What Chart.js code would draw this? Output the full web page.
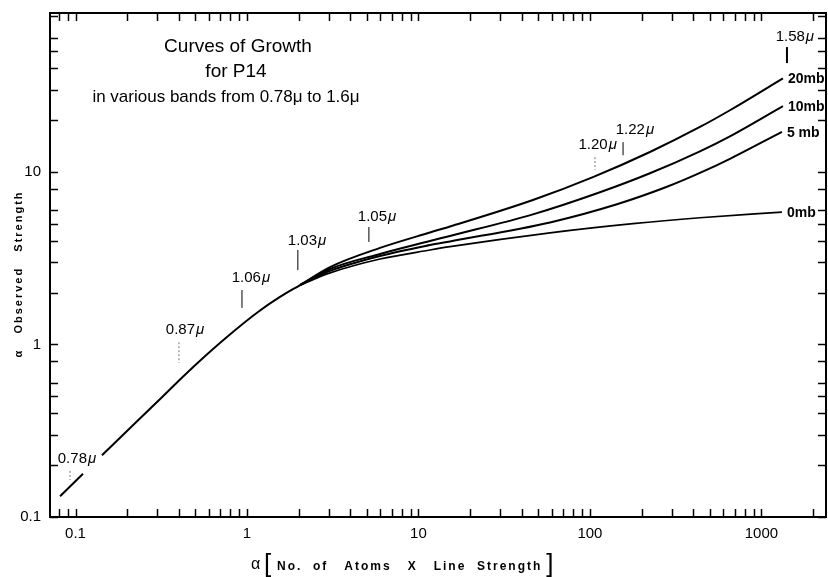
<!DOCTYPE html>
<html>
<head>
<meta charset="utf-8">
<script src="https://cdn.jsdelivr.net/npm/chart.js@4.4.1/dist/chart.umd.min.js"></script>
<style>
  body { margin: 0; background: #fff; }
  #wrap { width: 828px; height: 577px; }
</style>
</head>
<body>
<div id="wrap"><canvas id="cog" width="828" height="577"></canvas></div>
<script>
// axis ranges (log-log)
const xMin = 0.071, xMax = 2380;
const yMin = 0.1, yMax = 83.5;

// common trunk of all curves (null = break where the 0.78 label sits)
const trunkX = [0.0813, 0.1106, 0.125, 0.1427, 0.189, 0.272, 0.407, 0.511, 0.764, 1.159, 1.557, 2.04];
const trunkY = [0.132, 0.178, null, 0.228, 0.299, 0.424, 0.626, 0.776, 1.105, 1.543, 1.886, 2.21];

// branches by pressure
const mb20X = [2.04, 3.05, 5.97, 11.67, 15.27, 46.5, 104.1, 223.8, 437.9, 655.2, 1335];
const mb20Y = [2.21, 2.81, 3.63, 4.46, 4.83, 6.88, 9.34, 13.06, 18.24, 22.8, 34.9];
const mb10X = [2.04, 3.05, 5.97, 11.67, 15.27, 46.5, 114.4, 223.8, 437.9, 655.2, 1335];
const mb10Y = [2.21, 2.74, 3.35, 3.98, 4.26, 5.68, 7.63, 9.83, 13.18, 16.1, 24.1];
const mb5X = [2.04, 3.05, 5.97, 11.67, 15.27, 58.5, 143.7, 281.2, 437.9, 655.2, 1317];
const mb5Y = [2.21, 2.67, 3.26, 3.77, 3.96, 5.10, 6.50, 8.21, 9.88, 11.93, 17.1];
const mb0X = [2.04, 3.05, 5.97, 11.67, 15.27, 58.5, 178.1, 437.9, 1317];
const mb0Y = [2.21, 2.60, 3.13, 3.53, 3.69, 4.44, 5.02, 5.43, 5.86];
const curveNames = ['20mb', '10mb', '5 mb', '0mb'];

// band markers along the curve
const bandText = ['0.78', '0.87', '1.06', '1.03', '1.05', '1.20', '1.22', '1.58'];
const bandTickX = [0.0929, 0.401, 0.935, 1.98, 5.14, 107, 156, 1409];
const bandTickTop = [0.185, 1.03, 2.07, 3.53, 4.80, 12.2, 14.9, 53.0];
const bandTickBottom = [0.164, 0.781, 1.63, 2.70, 3.93, 10.3, 12.5, 42.8];
const bandLabelX = [0.102, 0.435, 1.055, 2.24, 5.73, 111, 183, 1567];
const bandLabelY = [0.217, 1.21, 2.43, 3.98, 5.48, 14.3, 17.5, 60.6];
const bandDotted = [true, true, false, false, false, true, false, false];

const xMults = [1, 2, 3, 4, 5, 6, 7, 8, 9];
const yMults = [1, 2, 3, 4, 5, 6, 8];

const FONT = '"Liberation Sans", Arial, sans-serif';

function pts(xs, ys) {
    return xs.map((x, i) => ({ x: x, y: ys[i] }));
}

function logTicks(min, max, mults) {
    const out = [];
    for (let e = Math.floor(Math.log10(min)); e <= Math.ceil(Math.log10(max)); e++) {
        mults.forEach(m => {
            const v = m * Math.pow(10, e);
            if (v >= min * 0.999 && v <= max) out.push(v);
        });
    }
    return out;
}

function isDecade(v) {
    const l = Math.log10(v);
    return Math.abs(l - Math.round(l)) < 1e-6;
}

function line(ctx, x1, y1, x2, y2) {
    ctx.beginPath();
    ctx.moveTo(x1, y1);
    ctx.lineTo(x2, y2);
    ctx.stroke();
}

const paperPlugin = {
    id: 'paper',
    afterDraw(chart) {
        const { ctx, chartArea: a, scales: { x, y } } = chart;
        ctx.save();
        ctx.strokeStyle = '#000';
        ctx.fillStyle = '#000';

        // frame
        ctx.lineWidth = 2;
        ctx.strokeRect(a.left, a.top, a.right - a.left, a.bottom - a.top);

        // inward ticks on all four sides
        ctx.lineWidth = 1.5;
        logTicks(xMin, xMax, xMults).forEach(v => {
            const px = Math.round(x.getPixelForValue(v)) + 0.5;
            line(ctx, px, a.bottom, px, a.bottom - 8);
            line(ctx, px, a.top, px, a.top + 8);
        });
        logTicks(yMin, yMax, yMults).forEach(v => {
            const py = Math.round(y.getPixelForValue(v)) + 0.5;
            line(ctx, a.left, py, a.left + 8, py);
            line(ctx, a.right, py, a.right - 8, py);
        });

        // band markers
        ctx.textBaseline = 'middle';
        bandText.forEach((t, i) => {
            const tx = x.getPixelForValue(bandTickX[i]);
            ctx.lineWidth = i === 7 ? 2 : 1;
            ctx.strokeStyle = bandDotted[i] ? '#777' : '#000';
            ctx.setLineDash(bandDotted[i] ? [2, 2] : []);
            line(ctx, tx, y.getPixelForValue(bandTickTop[i]), tx, y.getPixelForValue(bandTickBottom[i]));
            ctx.setLineDash([]);
            ctx.font = '15px ' + FONT;
            const w1 = ctx.measureText(t).width;
            ctx.font = 'italic 15px ' + FONT;
            const w2 = ctx.measureText('μ').width;
            const lx = x.getPixelForValue(bandLabelX[i]) - (w1 + w2 + 1) / 2;
            const ly = y.getPixelForValue(bandLabelY[i]);
            ctx.textAlign = 'left';
            ctx.font = '15px ' + FONT;
            ctx.fillText(t, lx, ly);
            ctx.font = 'italic 15px ' + FONT;
            ctx.fillText('μ', lx + w1 + 1, ly);
        });

        // pressure labels at the end of each branch
        ctx.font = 'bold 14px ' + FONT;
        ctx.textAlign = 'left';
        [1, 2, 3, 4].forEach((d, i) => {
            const ds = chart.data.datasets[d].data;
            const end = ds[ds.length - 1];
            ctx.fillText(curveNames[i], x.getPixelForValue(end.x) + 5, y.getPixelForValue(end.y) + 1);
        });

        // title block
        ctx.textAlign = 'center';
        ctx.font = '19px ' + FONT;
        ctx.fillText('Curves of Growth', 238, 47);
        ctx.fillText('for P14', 236, 72);
        ctx.font = '17px ' + FONT;
        ctx.fillText('in various bands from 0.78μ to 1.6μ', 226, 97);

        // x axis title
        ctx.textAlign = 'left';
        ctx.font = '16px ' + FONT;
        ctx.fillText('α', 251, 565);
        ctx.font = '26px ' + FONT;
        ctx.fillText('[', 264, 565);
        ctx.font = 'bold 12px ' + FONT;
        ctx.letterSpacing = '2px';
        const xt = 'No.  of   Atoms   X   Line  Strength';
        ctx.fillText(xt, 277, 567);
        const xtw = ctx.measureText(xt).width;
        ctx.letterSpacing = '0px';
        ctx.font = '26px ' + FONT;
        ctx.fillText(']', 277 + xtw + 4, 565);

        // y axis title
        ctx.translate(19, 274);
        ctx.rotate(-Math.PI / 2);
        ctx.textAlign = 'center';
        ctx.letterSpacing = '2px';
        ctx.font = 'bold 11px ' + FONT;
        ctx.fillText('α   Observed   Strength', 0, 0);
        ctx.restore();
    }
};

const lineStyle = {
    showLine: true, pointRadius: 0, borderColor: '#000', borderWidth: 2,
    cubicInterpolationMode: 'monotone', fill: false
};

new Chart(document.getElementById('cog'), {
    type: 'scatter',
    data: {
        datasets: [
            { ...lineStyle, data: pts(trunkX, trunkY) },
            { ...lineStyle, data: pts(mb20X, mb20Y) },
            { ...lineStyle, data: pts(mb10X, mb10Y) },
            { ...lineStyle, data: pts(mb5X, mb5Y) },
            { ...lineStyle, borderWidth: 1.7, data: pts(mb0X, mb0Y) }
        ]
    },
    options: {
        responsive: false,
        animation: false,
        layout: { padding: { top: 13, right: 2, left: 0, bottom: 0 } },
        plugins: { legend: { display: false }, tooltip: { enabled: false } },
        scales: {
            x: {
                type: 'logarithmic', min: xMin, max: xMax,
                grid: { display: false, drawTicks: false },
                border: { display: false },
                afterBuildTicks: s => { s.ticks = s.ticks.filter(t => isDecade(t.value)); },
                ticks: { autoSkip: false, maxRotation: 0, padding: 8, color: '#000', font: { family: FONT, size: 15 },
                         callback: v => String(+v.toPrecision(6)) },
                afterFit: s => { s.height = 60; s.paddingLeft = 0; s.paddingRight = 0; }
            },
            y: {
                type: 'logarithmic', min: yMin, max: yMax,
                grid: { display: false, drawTicks: false },
                border: { display: false },
                afterBuildTicks: s => { s.ticks = s.ticks.filter(t => isDecade(t.value)); },
                ticks: { autoSkip: false, padding: 9, color: '#000', font: { family: FONT, size: 15 },
                         callback: v => String(+v.toPrecision(6)) },
                afterFit: s => { s.width = 50; s.paddingTop = 0; s.paddingBottom = 0; }
            }
        }
    },
    plugins: [paperPlugin]
});
</script>
</body>
</html>
